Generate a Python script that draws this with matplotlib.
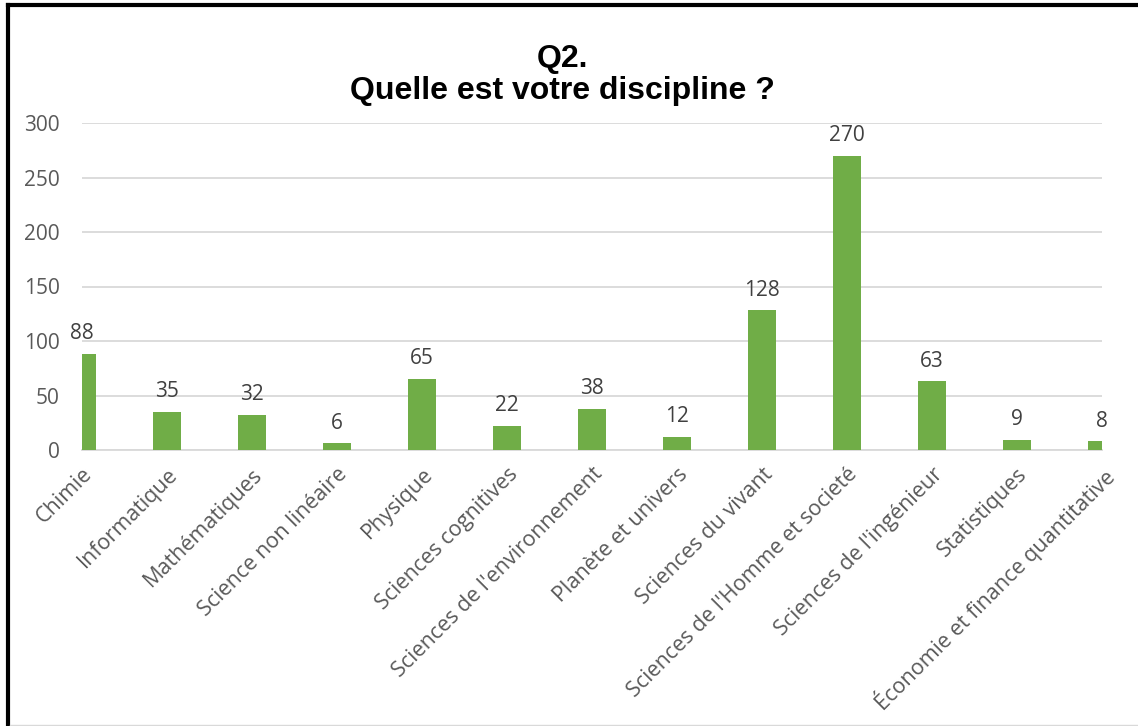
import matplotlib.pyplot as plt
from matplotlib.lines import Line2D

# data
categories = [
    "Chimie", "Informatique", "Mathématiques", "Science non linéaire",
    "Physique", "Sciences cognitives", "Sciences de l'environnement",
    "Planète et univers", "Sciences du vivant", "Sciences de l'Homme et societé",
    "Sciences de l'ingénieur", "Statistiques", "Économie et finance quantitative",
]
counts = [88, 35, 32, 6, 65, 22, 38, 12, 128, 270, 63, 9, 8]
yticks = [0, 50, 100, 150, 200, 250, 300]

green = "#70AD47"
label_grey = "#595959"

fig = plt.figure(figsize=(11.38, 7.26), dpi=100)
ax = fig.add_axes([82 / 1138, (726 - 450) / 726, (1102 - 82) / 1138, 327 / 726])

x = list(range(len(categories)))
bars = ax.bar(x, counts, width=0.32, color=green, zorder=3)

for xi, v in zip(x, counts):
    ax.annotate(str(v), (xi, v), xytext=(0, 7), textcoords="offset points",
                ha="center", va="bottom", fontsize=15, color="#404040",
                family="Open Sans", zorder=4)

ax.set_xlim(0, len(categories) - 1)
ax.set_ylim(0, 300)
ax.set_yticks(yticks)
ax.set_xticks(x)
ax.set_xticklabels(categories, rotation=45, ha="right", rotation_mode="anchor",
                   fontsize=15.5, color=label_grey, family="Open Sans")
for t in ax.get_yticklabels():
    t.set_family("Open Sans")
    t.set_fontsize(15)
    t.set_color(label_grey)
ax.tick_params(axis="both", length=0)
ax.tick_params(axis="y", pad=16)
ax.tick_params(axis="x", pad=10)

ax.grid(axis="y", color="#D9D9D9", linewidth=1.3, zorder=0)
for s in ["top", "right", "left"]:
    ax.spines[s].set_visible(False)
ax.spines["bottom"].set_color("#D9D9D9")
ax.spines["bottom"].set_linewidth(1.3)

fig.text(562 / 1138, 1 - 75 / 726, "Q2.\nQuelle est votre discipline ?", ha="center",
         va="center", fontsize=23, fontweight="bold", family="Liberation Sans",
         linespacing=1.1)

# frame like a cropped screenshot
fig.add_artist(Line2D([8 / 1138, 1], [1 - 5 / 726, 1 - 5 / 726], color="black", lw=3,
                      transform=fig.transFigure))
fig.add_artist(Line2D([8 / 1138, 8 / 1138], [0, 1 - 5 / 726], color="black", lw=3,
                      transform=fig.transFigure))
fig.add_artist(Line2D([10 / 1138, 1], [1 / 726, 1 / 726], color="#D9D9D9", lw=1,
                      transform=fig.transFigure))

fig.savefig("out.png", dpi=100)
